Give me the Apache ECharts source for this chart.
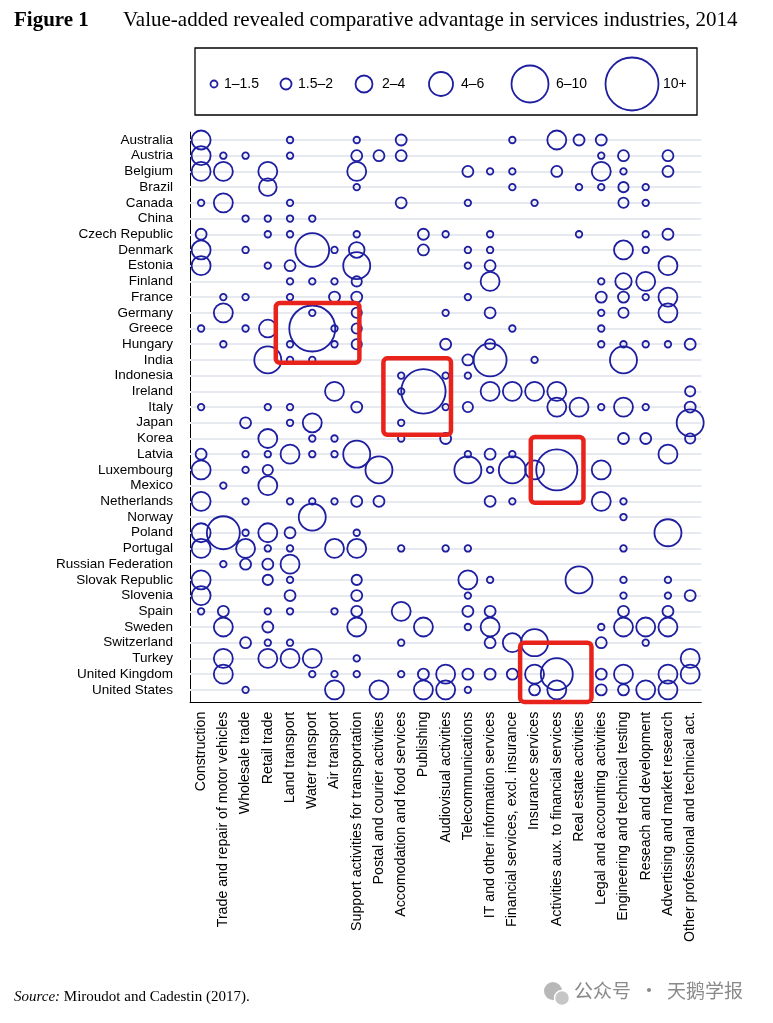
<!DOCTYPE html>
<html><head><meta charset="utf-8">
<script src="https://cdn.jsdelivr.net/npm/echarts@6/dist/echarts.min.js"></script>
<style>html,body{margin:0;padding:0;background:#fff}#c{width:773px;height:1023px}</style>
</head><body><div id="c"></div>
<script>
const countries = ["Australia","Austria","Belgium","Brazil","Canada","China","Czech Republic","Denmark","Estonia","Finland","France","Germany","Greece","Hungary","India","Indonesia","Ireland","Italy","Japan","Korea","Latvia","Luxembourg","Mexico","Netherlands","Norway","Poland","Portugal","Russian Federation","Slovak Republic","Slovenia","Spain","Sweden","Switzerland","Turkey","United Kingdom","United States"];
const industries = ["Construction","Trade and repair of motor vehicles","Wholesale trade","Retail trade","Land transport","Water transport","Air transport","Support activities for transportation","Postal and courier activities","Accomodation and food services","Publishing","Audiovisual activities","Telecommunications","IT and other information services","Financial services, excl. insurance","Insurance services","Activities aux. to financial services","Real estate activities","Legal and accounting activities","Engineering and technical testing","Reseach and development","Advertising and market research","Other professional and technical act."];
// RCA values per country (rows) x industry (columns); 0 = no comparative advantage
const rca = [
/*Australia*/ [3,0,0,0,1.2,0,0,1.2,0,1.8,0,0,0,0,1.2,0,3,1.8,1.8,0,0,0,0],
/*Austria*/   [3,1.2,1.2,0,1.2,0,0,1.8,1.8,1.8,0,0,0,0,0,0,0,0,1.2,1.8,0,1.8,0],
/*Belgium*/   [3,3,0,3,0,0,0,3,0,0,0,0,1.8,1.2,1.2,0,1.8,0,3,1.2,0,1.8,0],
/*Brazil*/    [0,0,0,2.8,0,0,0,1.2,0,0,0,0,0,0,1.2,0,0,1.2,1.2,1.7,1.2,0,0],
/*Canada*/    [1.2,3,0,0,1.2,0,0,0,0,1.8,0,0,1.2,0,0,1.2,0,0,0,1.7,1.2,0,0],
/*China*/     [0,0,1.2,1.2,1.2,1.2,0,0,0,0,0,0,0,0,0,0,0,0,0,0,0,0,0],
/*Czech*/     [1.8,0,0,1.2,1.2,0,0,1.2,0,0,1.8,1.2,0,1.2,0,0,0,1.2,0,0,1.2,1.8,0],
/*Denmark*/   [3,0,1.2,0,0,8.5,1.2,2.5,0,0,1.8,0,1.2,1.2,0,0,0,0,0,3,1.2,0,0],
/*Estonia*/   [3,0,0,1.2,1.8,0,0,5,0,0,0,0,1.2,1.8,0,0,0,0,0,0,0,3,0],
/*Finland*/   [0,0,0,0,1.2,1.2,1.2,1.7,0,0,0,0,0,3,0,0,0,0,1.2,2.6,3,0,0],
/*France*/    [0,1.2,1.2,0,1.2,0,1.8,1.8,0,0,0,0,1.2,0,0,0,0,0,1.8,1.8,1.2,3,0],
/*Germany*/   [0,3,0,0,0,1.2,0,1.7,0,0,0,1.2,0,1.8,0,0,0,0,1.2,1.7,0,3,0],
/*Greece*/    [1.2,0,1.2,2.8,0,16,1.2,1.7,0,0,0,0,0,0,1.2,0,0,0,1.2,0,0,0,0],
/*Hungary*/   [0,1.2,0,0,1.2,0,1.2,1.7,0,0,0,1.8,0,1.7,0,0,0,0,1.2,1.2,1.2,1.2,1.8],
/*India*/     [0,0,0,5,1.2,1.2,0,0,0,0,0,0,1.8,8,0,1.2,0,0,0,5,0,0,0],
/*Indonesia*/ [0,0,0,0,0,0,0,0,0,1.2,0,1.2,1.2,0,0,0,0,0,0,0,0,0,0],
/*Ireland*/   [0,0,0,0,0,0,3,0,0,1.2,15,0,0,3,3,3,3,0,0,0,0,0,1.7],
/*Italy*/     [1.2,0,0,1.2,1.2,0,0,1.8,0,0,0,1.2,1.7,0,0,0,3,3,1.2,3,1.2,0,1.8],
/*Japan*/     [0,0,1.8,0,1.2,3,0,0,0,1.2,0,0,0,0,0,0,0,0,0,0,0,0,5],
/*Korea*/     [0,0,0,3,0,1.2,1.2,0,0,1.2,0,1.8,0,0,0,0,0,0,0,1.8,1.8,0,1.7],
/*Latvia*/    [1.8,0,1.2,1.2,3,1.2,1.2,5,0,0,0,0,1.2,1.8,1.2,0,0,0,0,0,0,3,0],
/*Luxembourg*/[3,0,1.2,1.7,0,0,0,0,5,0,0,0,5,1.2,5,3,13,0,3,0,0,0,0],
/*Mexico*/    [0,1.2,0,3,0,0,0,0,0,0,0,0,0,0,0,0,0,0,0,0,0,0,0],
/*Netherlands*/[3,0,1.2,0,1.2,1.2,1.2,1.8,1.8,0,0,0,0,1.8,1.2,0,0,0,3,1.2,0,0,0],
/*Norway*/    [0,0,0,0,0,5,0,0,0,0,0,0,0,0,0,0,0,0,0,1.2,0,0,0],
/*Poland*/    [3,8,1.2,3,1.8,0,0,1.2,0,0,0,0,0,0,0,0,0,0,0,0,0,5,0],
/*Portugal*/  [3,0,3,1.2,1.2,0,3,3,0,1.2,0,1.2,1.2,0,0,0,0,0,0,1.2,0,0,0],
/*Russia*/    [0,1.2,1.8,1.8,3,0,0,0,0,0,0,0,0,0,0,0,0,0,0,0,0,0,0],
/*Slovak*/    [3,0,0,1.7,1.2,0,0,1.7,0,0,0,0,3,1.2,0,0,0,5,0,1.2,0,1.2,0],
/*Slovenia*/  [3,0,0,0,1.8,0,0,1.8,0,0,0,0,1.2,0,0,0,0,0,0,1.2,0,1.2,1.8],
/*Spain*/     [1.2,1.8,0,1.2,1.2,0,1.2,1.8,0,3,0,0,1.8,1.8,0,0,0,0,0,1.8,0,1.8,0],
/*Sweden*/    [0,3,0,1.8,0,0,0,3,0,0,3,0,1.2,3,0,0,0,0,1.2,3,3,3,0],
/*Switzerland*/[0,0,1.8,1.2,1.2,0,0,0,0,1.2,0,0,0,1.8,3,5,0,0,1.8,0,1.2,0,0],
/*Turkey*/    [0,3,0,3,3,3,0,1.2,0,0,0,0,0,0,0,0,0,0,0,0,0,0,3],
/*UK*/        [0,3,0,0,0,1.2,1.2,1.2,0,1.2,1.8,3,1.8,1.8,1.8,3,7.5,0,1.8,3,0,3,3],
/*US*/        [0,0,1.2,0,0,0,3,0,3,0,3,3,1.2,0,0,1.8,3,0,1.8,1.8,3,3,0]
];
const legendLabels = ["1\u20131.5","1.5\u20132","2\u20134","4\u20136","6\u201310","10+"];
const titleNum = "Figure 1";
const titleText = "Value-added revealed comparative advantage in services industries, 2014";
const sourceText = "Miroudot and Cadestin (2017).";

const sizeStops = [[1,5],[1.2,6.5],[1.8,11],[3,19],[5,27],[8,33],[16,46]];
function sizeOf(v){
  for(let i=1;i<sizeStops.length;i++){
    const a=sizeStops[i-1], b=sizeStops[i];
    if(v<=b[0]) return a[1]+(v-a[0])/(b[0]-a[0])*(b[1]-a[1]);
  }
  return sizeStops[sizeStops.length-1][1];
}
const points=[];
rca.forEach((row,r)=>row.forEach((v,c)=>{ if(v>0) points.push([c,r,v]); }));

const BLUE='#1e1ea0';
const chart = echarts.init(document.getElementById('c'), null, {renderer:'canvas'});
const gridLeft=190, rowH=15.71, colW=22.23, xOff=5;
const gridTop=140-rowH/2, gridH=rowH*countries.length;
const option = {
  animation:false,
  backgroundColor:'#fff',
  grid:{left:gridLeft, top:gridTop, width:colW*industries.length, height:gridH, containLabel:false},
  xAxis:{type:'category', data:industries, boundaryGap:true, offset:xOff,
    axisLine:{lineStyle:{color:'#000',width:1}},
    axisTick:{alignWithLabel:true,length:5,lineStyle:{color:'#000'}},
    axisLabel:{rotate:90, interval:0, fontSize:14.2, color:'#000', margin:9, fontFamily:'Liberation Sans, Arial, sans-serif'},
    splitLine:{show:false}},
  yAxis:{type:'category', data:countries, inverse:true, boundaryGap:true,
    axisLine:{lineStyle:{color:'#000',width:1}},
    axisTick:{alignWithLabel:true,length:6,lineStyle:{color:'#000'}},
    axisLabel:{interval:0, fontSize:13.5, color:'#000', margin:17, fontFamily:'Liberation Sans, Arial, sans-serif'},
    splitLine:{show:false}},
  series:[
    {type:'line', data:[], z:1, silent:true,
     markLine:{silent:true, z:1, symbol:'none', label:{show:false},
       lineStyle:{color:'#e6e9ef', width:2, type:'solid'},
       emphasis:{disabled:true},
       data:countries.map((c,i)=>({yAxis:i}))}},
    {type:'scatter', z:10, data:points, symbol:'circle',
     symbolSize:(d)=>sizeOf(d[2]),
     itemStyle:{color:'rgba(0,0,0,0)', borderColor:BLUE, borderWidth:1.8, opacity:1},
     emphasis:{disabled:true}, silent:true}
  ]
};
chart.setOption(option);

// annotation boxes given in fractional category positions [col0,col1,row0,row1]
const boxes=[[3.36,7.12,10.37,14.18],[8.2,11.24,13.9,18.76],[14.83,17.2,18.9,23.09],[14.35,17.56,32.0,35.77]];
const x0=chart.convertToPixel({xAxisIndex:0},0), x1=chart.convertToPixel({xAxisIndex:0},1);
const y0=chart.convertToPixel({yAxisIndex:0},0), y1=chart.convertToPixel({yAxisIndex:0},1);
const fx=c=>x0+(x1-x0)*c, fy=r=>y0+(y1-y0)*r;

const legendX=[214,286,364,441,530,632], legendD=[7,11,17,24,37,53], legendTX=[224,298,382,461,556,663];
const graphics=[
  {type:'text', left:14, top:10, style:{text:titleNum, font:'bold 21px "Liberation Serif", "Times New Roman", serif', fill:'#000'}},
  {type:'text', left:123, top:10, style:{text:titleText, font:'21px "Liberation Serif", "Times New Roman", serif', fill:'#000'}},
  {type:'rect', shape:{x:195,y:48,width:502,height:67}, style:{fill:'none',stroke:'#000',lineWidth:1.3}},
  // left axis continuation down to the offset category axis
  {type:'line', shape:{x1:gridLeft+0.5,y1:gridTop+gridH,x2:gridLeft+0.5,y2:gridTop+gridH+xOff}, style:{stroke:'#000',lineWidth:1}},
  {type:'text', left:14, top:990, style:{rich:{i:{fontStyle:'italic', fontFamily:'Liberation Serif', fontSize:15, fill:'#000'}, n:{fontFamily:'Liberation Serif', fontSize:15, fill:'#000'}}, text:'{i|Source:}{n| '+sourceText+'}'}},
  {type:'circle', shape:{cx:553,cy:991,r:9}, style:{fill:'#b8b8b8'}},
  {type:'circle', shape:{cx:562,cy:998,r:7.5}, style:{fill:'#c6c6c6', stroke:'#fff', lineWidth:1.5}},
  {type:'text', left:574, top:981, style:{text:'\u516c\u4f17\u53f7  \u00b7  \u5929\u9e45\u5b66\u62a5', font:'19px "Noto Sans CJK SC", sans-serif', fill:'#8a8a8a'}}
];
legendLabels.forEach((t,i)=>{
  graphics.push({type:'circle', shape:{cx:legendX[i],cy:84,r:legendD[i]/2}, style:{fill:'none',stroke:BLUE,lineWidth:1.8}});
  graphics.push({type:'text', x:legendTX[i], y:84, style:{text:t, font:'14px "Liberation Sans", Arial, sans-serif', fill:'#000', verticalAlign:'middle'}});
});
boxes.forEach(b=>{
  const xa=fx(b[0]), xb=fx(b[1]), ya=fy(b[2]), yb=fy(b[3]);
  graphics.push({type:'rect', z:100, shape:{x:xa,y:ya,width:xb-xa,height:yb-ya,r:4}, style:{fill:'none',stroke:'#e8231c',lineWidth:4.5}});
});
chart.setOption({graphic:graphics});
</script></body></html>
